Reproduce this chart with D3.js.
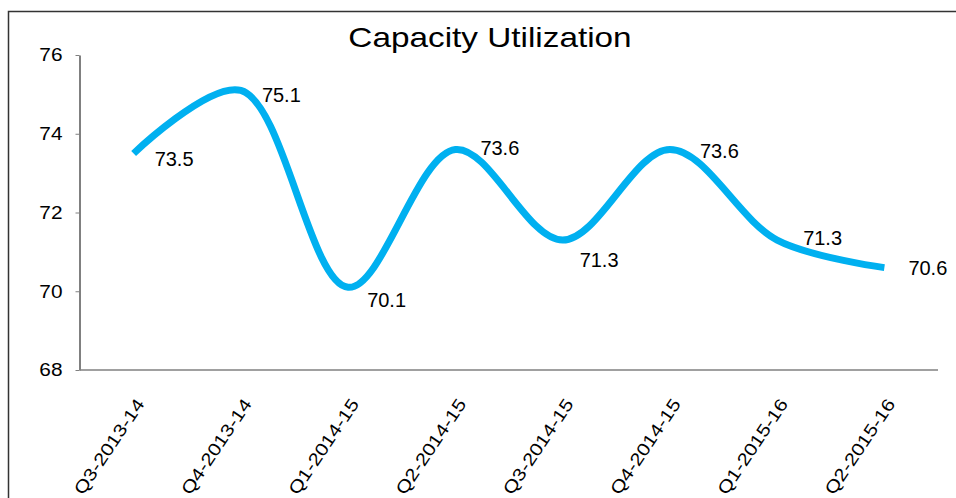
<html lang="en">
<head>
  <meta charset="UTF-8"/>
  <title>Capacity Utilization</title>
  <script src="https://d3js.org/d3.v7.min.js"></script>
</head>
<style>
body {
  margin: 0;
  font-family: 'Liberation Sans', Arial, sans-serif;
  background: #fff;
}

svg {
  display: block;
}

text {
  fill: #000;
}

.axis path, .axis line {
  stroke: #808080;
}
</style>
<body>
<svg id="chart" width="956" height="498"></svg>
<script>
    const quarters = ['Q3-2013-14', 'Q4-2013-14', 'Q1-2014-15', 'Q2-2014-15',
      'Q3-2014-15', 'Q4-2014-15', 'Q1-2015-16', 'Q2-2015-16'];
    const utilization = [73.5, 75.1, 70.1, 73.6, 71.3, 73.6, 71.3, 70.6];
    const yTicks = [68, 70, 72, 74, 76];

    // where each value label sits relative to its point
    const labelOffset = [[21, 13], [21, 12], [19, 20], [25, 5], [17, 27], [30, 8], [26, 5], [24, 7]];

    const svg = d3.select('#chart');
    const stretch = 1.19;

    // frame (left and top edges only show in the crop)
    svg.append('rect')
      .attr('x', 8.5)
      .attr('y', 11.5)
      .attr('width', 1000)
      .attr('height', 600)
      .attr('fill', 'none')
      .attr('stroke', '#333')
      .attr('stroke-width', 1.5);

    const x = d3.scalePoint()
      .domain(quarters)
      .range([80, 938])
      .padding(0.5);

    const y = d3.scaleLinear()
      .domain([68, 76])
      .range([370, 55]);

    // y axis
    const yAxis = svg.append('g')
      .attr('class', 'axis')
      .attr('transform', 'translate(79.5, 0)')
      .call(d3.axisLeft(y).tickValues(yTicks).tickSize(4).tickSizeOuter(0));

    yAxis.select('.domain').attr('stroke-width', 2);
    yAxis.selectAll('.tick text')
      .attr('x', 0)
      .attr('dy', null)
      .attr('font-family', "'Liberation Sans', Arial, sans-serif")
      .attr('font-size', 17.5)
      .attr('fill', '#000')
      .attr('text-anchor', 'end')
      .attr('dominant-baseline', 'central')
      .attr('transform', `translate(-17, 0) scale(${stretch}, 1)`);

    // x axis
    const xAxis = svg.append('g')
      .attr('class', 'axis')
      .attr('transform', 'translate(0, 370)')
      .call(d3.axisBottom(x).tickSize(0).tickSizeOuter(0));

    xAxis.select('.domain')
      .attr('stroke', '#444')
      .attr('stroke-width', 1.5)
      .attr('d', 'M80,0H938');

    xAxis.selectAll('.tick text')
      .attr('x', 0)
      .attr('y', 0)
      .attr('dy', null)
      .attr('font-family', "'Liberation Sans', Arial, sans-serif")
      .attr('font-size', 17.5)
      .attr('fill', '#000')
      .attr('text-anchor', 'end')
      .attr('transform', `translate(11, 34) rotate(-56) scale(${stretch}, 1)`);

    // line
    const line = d3.line()
      .x((d, i) => x(quarters[i]))
      .y((d) => y(d))
      .curve(d3.curveCatmullRom.alpha(0.5));

    svg.append('path')
      .datum(utilization)
      .attr('fill', 'none')
      .attr('stroke', '#00B0F0')
      .attr('stroke-width', 7)
      .attr('stroke-linejoin', 'round')
      .attr('d', line);

    // value labels
    svg.append('g')
      .selectAll('text')
      .data(utilization)
      .enter()
      .append('text')
      .attr('x', (d, i) => x(quarters[i]) + labelOffset[i][0])
      .attr('y', (d, i) => y(d) + labelOffset[i][1])
      .attr('font-size', 20)
      .text((d) => d.toFixed(1));

    // title
    svg.append('text')
      .attr('transform', `translate(490, 47) scale(${stretch}, 1)`)
      .attr('text-anchor', 'middle')
      .attr('font-size', 28)
      .text('Capacity Utilization');
</script>
</body>
</html>
